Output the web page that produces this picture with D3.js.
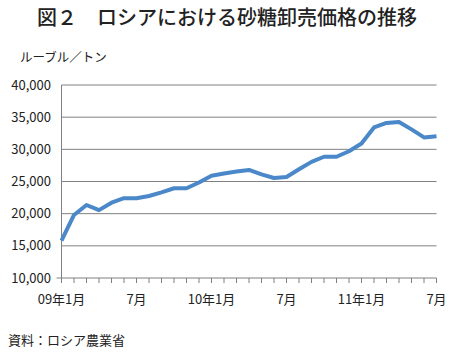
<!DOCTYPE html>
<meta charset="utf-8">

<head>
  <title>D3</title>
  <style>
    body { margin: 0; background: #fff; }
    text { font-family: "Noto Sans CJK JP", "Noto Sans", sans-serif; fill: #222; }
  </style>
  <script src="https://d3js.org/d3.v7.min.js"></script>
</head>

<body>
  <div id="content"></div>

  <script>
    // monthly wholesale sugar price, Jan 2009 - Jul 2011 (rub/t)
    var months = d3.range(31);
    var prices = [
      15800, 19800, 21350, 20550, 21700, 22400, 22400, 22750, 23300, 23950, 23950, 24850,
      25900, 26250, 26550, 26800, 26100, 25550, 25700, 26900, 28050, 28850, 28850, 29700,
      30900, 33400, 34100, 34250, 33100, 31850, 32050
    ];
    var yTicks = [10000, 15000, 20000, 25000, 30000, 35000, 40000];
    var xLabels = {0: '09年1月', 6: '7月', 12: '10年1月', 18: '7月', 24: '11年1月', 30: '7月'};

    var width = 450, height = 353;
    var svg = d3.select('#content').append('svg')
      .attr('width', width)
      .attr('height', height);

    var x = d3.scaleLinear().domain([0, 30]).range([61.5, 436.5]);
    var y = d3.scaleLinear().domain([10000, 40000]).range([278, 85]);

    // title
    svg.append('text')
      .attr('x', 227).attr('y', 25)
      .attr('text-anchor', 'middle')
      .style('font-size', '20px')
      .style('font-weight', 500)
      .text('図２　ロシアにおける砂糖卸売価格の推移');

    svg.append('text')
      .attr('x', 20).attr('y', 62)
      .style('font-size', '12.5px')
      .text('ルーブル／トン');

    // gridlines
    svg.append('g')
      .selectAll('line')
      .data(yTicks.slice(1))
      .join('line')
      .attr('x1', x(0)).attr('x2', x(30))
      .attr('y1', d => y(d)).attr('y2', d => y(d))
      .attr('stroke', '#808080')
      .attr('stroke-width', 1);

    // y labels
    svg.append('g')
      .selectAll('text')
      .data(yTicks)
      .join('text')
      .attr('x', 51).attr('y', d => y(d) + 4.5)
      .attr('text-anchor', 'end')
      .style('font-size', '13px')
      .text(d => d3.format(',')(d));

    // axes
    var ax = svg.append('g').attr('stroke', '#808080').attr('stroke-width', 1);
    ax.append('line')
      .attr('x1', x(0)).attr('x2', x(0))
      .attr('y1', y(40000)).attr('y2', y(10000));
    ax.append('line')
      .attr('x1', x(0) - 5).attr('x2', x(30))
      .attr('y1', y(10000)).attr('y2', y(10000));
    ax.selectAll('.tick')
      .data(months)
      .join('line')
      .attr('x1', d => x(d)).attr('x2', d => x(d))
      .attr('y1', y(10000)).attr('y2', y(10000) + 5);

    // x labels
    svg.append('g')
      .selectAll('text')
      .data(Object.keys(xLabels).map(Number))
      .join('text')
      .attr('x', d => x(d)).attr('y', 304)
      .attr('text-anchor', 'middle')
      .style('font-size', '13px')
      .text(d => xLabels[d]);

    // line
    var line = d3.line()
      .x((d, i) => x(months[i]))
      .y(d => y(d));

    svg.append('path')
      .datum(prices)
      .attr('d', line)
      .attr('fill', 'none')
      .attr('stroke', '#4a88c9')
      .attr('stroke-width', 4)
      .attr('stroke-linejoin', 'round');

    svg.append('text')
      .attr('x', 8).attr('y', 345)
      .style('font-size', '13px')
      .text('資料：ロシア農業省');
  </script>
</body>

</html>
